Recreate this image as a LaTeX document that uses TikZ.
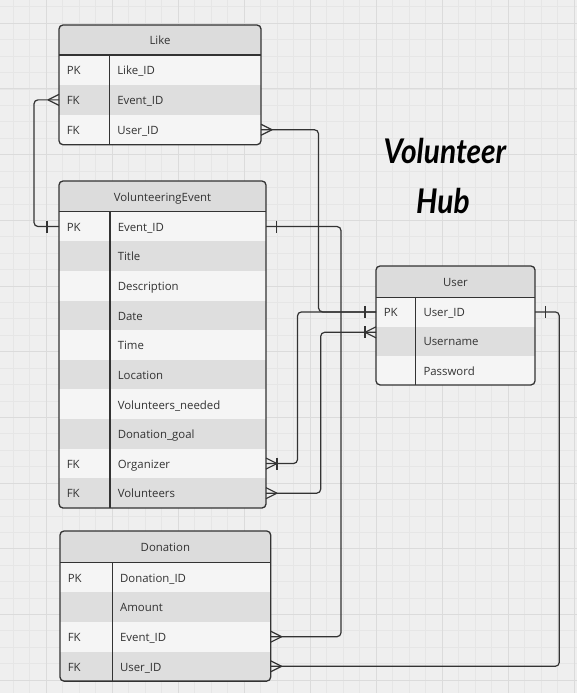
\documentclass[tikz,border=0pt]{standalone}
\usepackage{fontspec}
\setmainfont{Open Sans}
\newfontfamily\titlefont{Lato}
\usetikzlibrary{calc}
\definecolor{bg}{HTML}{EFEFEF}
\definecolor{minorg}{HTML}{E6E6E6}
\definecolor{majorg}{HTML}{DBDBDB}
\definecolor{headfill}{HTML}{DCDCDC}
\definecolor{rowlight}{HTML}{F5F5F5}
\definecolor{rowdark}{HTML}{DEDEDE}
\definecolor{ink}{HTML}{333333}
\tikzset{
  border/.style={draw=ink, line width=1.3pt},
  conn/.style={draw=ink, line width=1.2pt, rounded corners=4pt},
  rowcell/.style={draw=none, inner sep=0pt, outer sep=0pt},
  keytext/.style={anchor=base west, inner sep=0pt, text=ink},
  fieldtext/.style={anchor=base west, inner sep=0pt, text=ink},
  headtext/.style={anchor=base, inner sep=0pt, text=ink},
  titletext/.style={text=black, font=\titlefont\bfseries\itshape\fontsize{34}{40}\selectfont, xscale=0.88, inner sep=0pt},
  crowfoot/.pic={\draw[draw=ink, line width=1.2pt] (0,0) -- (11,-5.5) (0,0) -- (11,5.5);},
  onebar/.pic={\draw[draw=ink, line width=1.2pt] (0,-6) -- (0,6);}
}
\newcommand{\ertable}[4]{%
  \pgfmathsetmacro\tB{\tH+\tRH*#3}%
  \begin{scope}
    \clip[rounded corners=4pt] (\tL,\tT) rectangle (\tR,\tB);
    \fill[headfill] (\tL,\tT) rectangle (\tR,\tH);
    \foreach \k/\f [count=\i] in {#4} {
      \pgfmathsetmacro\yc{\tH+\tRH*(\i-0.5)}
      \pgfmathtruncatemacro\odd{mod(\i,2)}
      \ifnum\odd=1 \def\rf{rowlight}\else\def\rf{rowdark}\fi
      \node[rowcell, fill=\rf, minimum width={\tR-\tL}, minimum height={\tRH}] (#1-r\i) at ({(\tL+\tR)/2},\yc) {};
      \node[keytext] (#1-k\i) at ({\tL+7.6},{\yc+4.8}) {\k};
      \node[fieldtext] (#1-f\i) at ({\tD+7.6},{\yc+4.8}) {\f};
    }
  \end{scope}
  \node[headtext] (#1-head) at ({(\tL+\tR)/2},{(\tT+\tH)/2+4.8}) {#2};
  \draw[border, rounded corners=4pt] (\tL,\tT) rectangle (\tR,\tB);
  \draw[border] (\tL,\tH) -- (\tR,\tH) (\tD,\tH) -- (\tD,\tB);
}
\begin{document}
\begin{tikzpicture}[x=1pt, y=-1pt, font=\fontsize{11.4}{13}\selectfont]
\useasboundingbox (0,0) rectangle (577,693);
\fill[bg] (0,0) rectangle (577,693);
% grid
\foreach \i in {0,...,35} {\draw[minorg, line width=0.8pt] ({13.3+16.5*\i},0) -- ++(0,693);}
\foreach \i in {0,...,43} {\draw[minorg, line width=0.8pt] (0,{6.88+16.42*\i}) -- ++(577,0);}
\foreach \i in {0,...,8} {\draw[majorg, line width=1pt] ({46.3+66*\i},0) -- ++(0,693);}
\foreach \i in {0,...,10} {\draw[majorg, line width=1pt] (0,{23.3+65.68*\i}) -- ++(577,0);}

% tables
\def\tL{59}\def\tT{25}\def\tR{261}\def\tH{55}\def\tRH{29.9}\def\tD{109.5}
\ertable{like}{Like}{3}{PK/Like\_ID, FK/Event\_ID, FK/User\_ID}

\def\tL{59}\def\tT{181}\def\tR{266}\def\tH{211.7}\def\tRH{29.63}\def\tD{110}
\ertable{ve}{VolunteeringEvent}{10}{PK/Event\_ID, /Title, /Description, /Date, /Time, /Location, /Volunteers\_needed, /Donation\_goal, FK/Organizer, FK/Volunteers}

\def\tL{376}\def\tT{266}\def\tR{535}\def\tH{297.3}\def\tRH{29.2}\def\tD{415.7}
\ertable{user}{User}{3}{PK/User\_ID, /Username, /Password}

\def\tL{60}\def\tT{531}\def\tR{270.7}\def\tH{562.7}\def\tRH{29.6}\def\tD{112.3}
\ertable{don}{Donation}{4}{PK/Donation\_ID, /Amount, FK/Event\_ID, FK/User\_ID}

% title
\node[titletext] (title1) at (445,151) {Volunteer};
\node[titletext] (title2) at (443,201) {Hub};

% connectors
\coordinate (user-vol) at ($(user-r2.west)+(0,-8.8)$);
\draw[conn] (like-r2.west) -- ++(-25,0) |- (ve-r1.west);
\draw[conn] (like-r3.east) -- ++(57.5,0) |- (user-r1.west);
\draw[conn] (ve-r1.east) -- ++(75,0) |- (don-r3.east);
\draw[conn] (ve-r9.east) -- ++(31.5,0) |- (user-r1.west);
\draw[conn] (ve-r10.east) -- ++(54.7,0) |- (user-vol);
\draw[conn] (user-r1.east) -- ++(24.3,0) |- (don-r4.east);

% ends
\pic at ($(like-r2.west)+(-11,0)$) {crowfoot};
\pic at ($(ve-r1.west)+(-12,0)$) {onebar};
\pic[xscale=-1] at ($(like-r3.east)+(11,0)$) {crowfoot};
\pic at ($(user-r1.west)+(-11,0)$) {onebar};
\pic at ($(ve-r1.east)+(10.7,0)$) {onebar};
\pic[xscale=-1] at ($(don-r3.east)+(11,0)$) {crowfoot};
\pic[xscale=-1] at ($(ve-r9.east)+(11,0)$) {crowfoot};
\pic at ($(ve-r9.east)+(11,0)$) {onebar};
\pic[xscale=-1] at ($(ve-r10.east)+(11,0)$) {crowfoot};
\pic at ($(user-vol)+(-11,0)$) {crowfoot};
\pic at ($(user-vol)+(-11,0)$) {onebar};
\pic at ($(user-r1.east)+(10.7,0)$) {onebar};
\pic[xscale=-1] at ($(don-r4.east)+(11,0)$) {crowfoot};
\end{tikzpicture}
\end{document}
